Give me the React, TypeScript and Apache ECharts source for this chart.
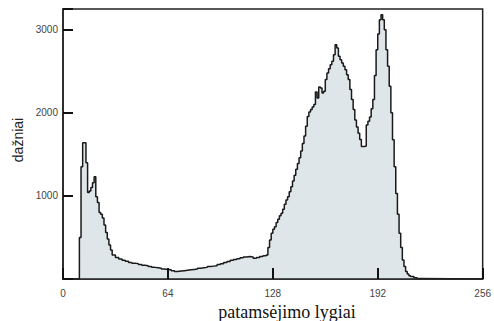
import React, { useEffect, useRef } from "react";
import * as echarts from "echarts";

// gray level where each histogram step starts, and its count
const levels = [
  0, 10, 11, 12, 14, 15, 16, 17, 18, 19, 20, 21, 22, 23, 24, 25, 26, 27, 28, 29,
  30, 32, 34, 36, 38, 40, 42, 44, 46, 48, 50, 52, 54, 56, 58, 60, 62, 64, 66, 68,
  70, 72, 74, 76, 78, 80, 82, 84, 86, 88, 90, 92, 94, 96, 98, 100, 102, 104, 106, 108,
  110, 112, 114, 116, 118, 120, 122, 124, 125, 126, 127, 128, 129, 130, 131, 132, 133, 134, 135, 136,
  137, 138, 139, 140, 141, 142, 143, 144, 145, 146, 147, 148, 149, 150, 151, 152, 153, 154, 155, 156,
  157, 158, 159, 160, 161, 162, 163, 164, 165, 166, 167, 168, 169, 170, 171, 172, 173, 174, 175, 176,
  177, 178, 179, 180, 181, 182, 183, 184, 185, 186, 187, 188, 189, 190, 191, 192, 193, 194, 195, 196,
  197, 198, 199, 200, 201, 202, 203, 204, 205, 206, 207, 208, 209, 210, 211, 212, 214, 216, 217, 256,
];
const counts = [
  0, 500, 1350, 1640, 1400, 1040, 1060, 1100, 1160, 1230, 990, 920, 800, 780, 735, 650, 560, 480, 410, 350,
  290, 260, 240, 225, 215, 200, 190, 185, 175, 165, 160, 150, 140, 135, 130, 120, 115, 110, 100, 90,
  95, 100, 105, 110, 115, 120, 130, 135, 140, 150, 155, 160, 175, 185, 200, 210, 225, 235, 245, 255,
  265, 270, 265, 250, 260, 270, 280, 290, 380, 470, 550, 600, 630, 680, 720, 760, 790, 840, 900, 950,
  990, 1050, 1110, 1180, 1250, 1320, 1390, 1460, 1540, 1630, 1720, 1840, 1955, 2010, 2040, 2070, 2100, 2250, 2180, 2310,
  2300, 2240, 2260, 2400, 2480, 2530, 2580, 2620, 2700, 2820, 2780, 2680, 2640, 2600, 2560, 2520, 2460, 2400, 2280, 2160,
  2040, 1915, 1830, 1755, 1680, 1595, 1595, 1600, 1855, 1900, 1950, 2050, 2160, 2450, 2760, 2950, 3120, 3180, 3120, 3000,
  2760, 2560, 2320, 2000, 1675, 1350, 1030, 780, 550, 380, 230, 150, 90, 60, 40, 30, 15, 5, 0, 0,
];
const xTicks = [0, 64, 128, 192, 256];
const yTicks = [1000, 2000, 3000];
const xTitle = "patamsėjimo lygiai";
const yTitle = "dažniai";

export default function App() {
  const ref = useRef<HTMLDivElement>(null);
  useEffect(() => {
    if (!ref.current) return;
    const chart = echarts.init(ref.current, null, { renderer: "svg" });
    const data = levels.map((l, i) => [l, counts[i]]);
    chart.setOption({
      animation: false,
      backgroundColor: "#ffffff",
      grid: {
        left: 63,
        right: 7,
        top: 9,
        bottom: 42,
        show: true,
        borderColor: "#222",
        borderWidth: 1.5,
        backgroundColor: "transparent",
      },
      xAxis: {
        type: "value",
        min: 0,
        max: 256,
        interval: 64,
        z: 5,
        axisLine: { show: true, lineStyle: { color: "#222", width: 1.5 } },
        axisTick: { show: true, inside: true, length: 11, lineStyle: { color: "#111", width: 2 } },
        splitLine: { show: false },
        axisLabel: {
          color: "#444",
          fontSize: 10,
          fontFamily: "Liberation Sans, Arial, sans-serif",
          margin: 9,
          formatter: (v: number) => (xTicks.includes(v) ? String(v) : ""),
        },
      },
      yAxis: {
        type: "value",
        min: 0,
        max: 3250,
        interval: 1000,
        z: 5,
        axisLine: { show: true, lineStyle: { color: "#222", width: 1.5 } },
        axisTick: { show: true, inside: true, length: 10, lineStyle: { color: "#111", width: 2 } },
        splitLine: { show: false },
        axisLabel: {
          color: "#444",
          fontSize: 10,
          fontFamily: "Liberation Sans, Arial, sans-serif",
          margin: 5,
          formatter: (v: number) => (yTicks.includes(v) ? String(v) : ""),
        },
      },
      graphic: [
        {
          type: "text",
          x: 287,
          y: 312,
          style: {
            text: xTitle,
            fontSize: 18,
            fontFamily: "Liberation Serif, Times New Roman, serif",
            fill: "#111",
            align: "center",
            verticalAlign: "middle",
          },
        },
        {
          type: "text",
          x: 18,
          y: 140,
          rotation: Math.PI / 2,
          style: {
            text: yTitle,
            fontSize: 14,
            fontFamily: "Liberation Sans, Arial, sans-serif",
            fill: "#222",
            align: "center",
            verticalAlign: "middle",
          },
        },
      ],
      series: [
        {
          type: "line",
          step: "end",
          data,
          symbol: "none",
          z: 2,
          lineStyle: { color: "#1a1a1a", width: 1.5 },
          areaStyle: { color: "#dfe6ea", opacity: 1 },
        },
      ],
    });
    return () => chart.dispose();
  }, []);
  return (
    <div
      ref={ref}
      style={{ position: "fixed", left: 0, top: 0, width: 494, height: 321 }}
    />
  );
}
